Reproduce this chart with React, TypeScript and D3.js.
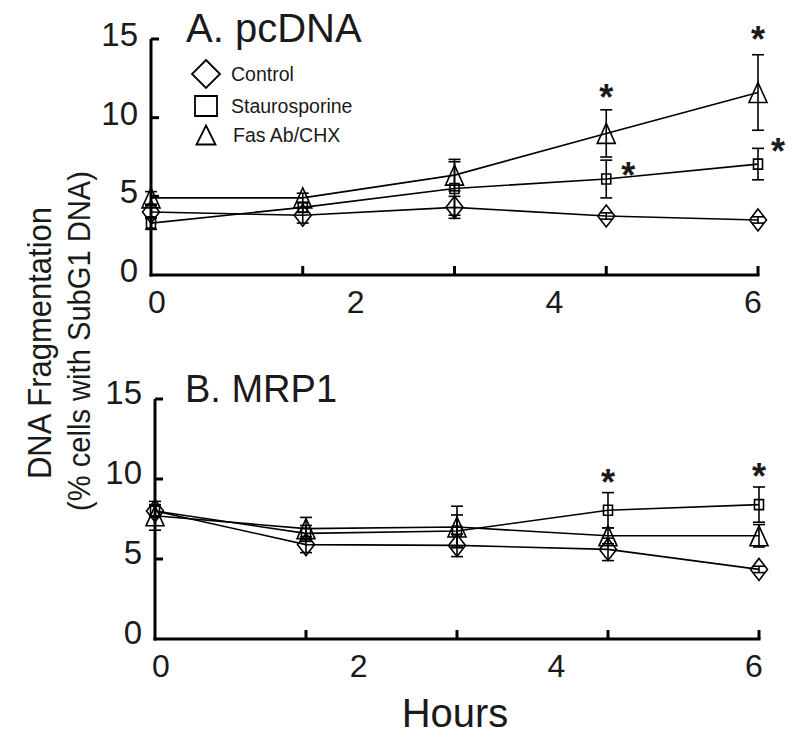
import React from "react";
import * as d3 from "d3";

const times = [0, 1.5, 3, 4.5, 6];
const xTickValues = [1.5, 3, 4.5, 6];
const xLabelValues = [0, 2, 4, 6];
const yTickValues = [0, 5, 10, 15];
const seriesNames = ["Control", "Staurosporine", "Fas Ab/CHX"];
const seriesShapes = ["diamond", "square", "triangle"];

// Panel A: pcDNA
const pcControl = [4.0, 3.8, 4.3, 3.75, 3.5];
const pcControlErr = [0.4, 0.5, 0.7, 0.2, 0.2];
const pcStauro = [3.3, 4.3, 5.5, 6.1, 7.05];
const pcStauroErr = [0.4, 0.3, 1.7, 1.2, 1.0];
const pcFas = [4.9, 4.9, 6.35, 9.0, 11.6];
const pcFasErr = [0.4, 0.3, 1.0, 1.5, 2.4];

// Panel B: MRP1
const mrpControl = [8.0, 5.9, 5.85, 5.6, 4.35];
const mrpControlErr = [0.3, 0.5, 0.7, 0.7, 0.2];
const mrpStauro = [8.0, 6.6, 6.75, 8.05, 8.4];
const mrpStauroErr = [0.4, 0.5, 1.0, 1.1, 1.1];
const mrpFas = [7.7, 6.9, 7.0, 6.45, 6.45];
const mrpFasErr = [0.9, 0.7, 1.3, 0.5, 0.7];

// significance stars: time, value (data units), horizontal pixel offset
const pcStars = [
  { t: 4.5, v: 11.8, dx: 0 },
  { t: 6, v: 15.5, dx: 0 },
  { t: 4.5, v: 6.85, dx: 22 },
  { t: 6, v: 8.4, dx: 20 },
];
const mrpStars = [
  { t: 4.5, v: 10.3, dx: 0 },
  { t: 6, v: 10.7, dx: 0 },
];

const FONT = "'Liberation Sans', Arial, Helvetica, sans-serif";

function markerPath(shape: string, cx: number, cy: number, big = false) {
  const p = d3.path();
  if (shape === "diamond") {
    const hw = big ? 14 : 8.5, hh = big ? 14 : 11;
    p.moveTo(cx, cy - hh);
    p.lineTo(cx + hw, cy);
    p.lineTo(cx, cy + hh);
    p.lineTo(cx - hw, cy);
    p.closePath();
  } else if (shape === "square") {
    const hw = big ? 11 : 4.5, hh = big ? 10 : 5;
    p.rect(cx - hw, cy - hh, hw * 2, hh * 2);
  } else {
    const hw = big ? 9.5 : 9, hh = big ? 9.5 : 10;
    p.moveTo(cx, cy - hh);
    p.lineTo(cx + hw, cy + hh);
    p.lineTo(cx - hw, cy + hh);
    p.closePath();
  }
  return p.toString();
}

type Panel = {
  title: string;
  x0: number; x1: number; y0: number; y1: number;
  titleX: number; titleY: number; titleSize: number;
  labelShift: number;
  values: number[][];
  errs: number[][];
  stars: { t: number; v: number; dx: number }[];
  legend: boolean;
};

const panels: Panel[] = [
  {
    title: "A. pcDNA",
    x0: 151, x1: 758, y0: 275, y1: 39,
    titleX: 186, titleY: 42, titleSize: 40,
    labelShift: -5,
    values: [pcControl, pcStauro, pcFas],
    errs: [pcControlErr, pcStauroErr, pcFasErr],
    stars: pcStars,
    legend: true,
  },
  {
    title: "B. MRP1",
    x0: 155, x1: 759, y0: 639, y1: 399,
    titleX: 185, titleY: 402, titleSize: 38,
    labelShift: -7,
    values: [mrpControl, mrpStauro, mrpFas],
    errs: [mrpControlErr, mrpStauroErr, mrpFasErr],
    stars: mrpStars,
    legend: false,
  },
];

function PanelView({ p }: { p: Panel }) {
  const x = d3.scaleLinear().domain([0, 6]).range([p.x0, p.x1]);
  const xl = d3.scaleLinear().domain([0, 6]).range([p.x0 + 6, p.x1 - 5]);
  const y = d3.scaleLinear().domain([0, 15]).range([p.y0, p.y1]);
  const line = d3
    .line<number>()
    .x((_, i) => x(times[i]))
    .y((d) => y(d));
  return (
    <g>
      {/* axes */}
      <line x1={p.x0} x2={p.x0} y1={y(15)} y2={p.y0 + 1.5} stroke="#000" strokeWidth={3} />
      <line x1={p.x0 - 1.5} x2={p.x1 + 1.5} y1={p.y0} y2={p.y0} stroke="#000" strokeWidth={3} />
      {yTickValues.filter((v) => v > 0).map((v) => (
        <line key={"yt" + v} x1={p.x0} x2={p.x0 + 8} y1={y(v)} y2={y(v)} stroke="#000" strokeWidth={3} />
      ))}
      {xTickValues.map((v) => (
        <line key={"xt" + v} x1={x(v)} x2={x(v)} y1={p.y0} y2={p.y0 - 9} stroke="#000" strokeWidth={3} />
      ))}
      {yTickValues.map((v) => (
        <text key={"yl" + v} x={p.x0 - 13} y={y(v) + 12 + p.labelShift} textAnchor="end" fontSize={33} fontFamily={FONT} fill="#1a1a1a">
          {v}
        </text>
      ))}
      {xLabelValues.map((v) => (
        <text key={"xl" + v} x={xl(v)} y={p.y0 + 38} textAnchor="middle" fontSize={32} fontFamily={FONT} fill="#1a1a1a">
          {v}
        </text>
      ))}
      {/* title */}
      <text x={p.titleX} y={p.titleY} fontSize={p.titleSize} fontFamily={FONT} fill="#1a1a1a">
        {p.title}
      </text>
      {/* series lines */}
      {p.values.map((vals, si) => (
        <path key={"ln" + si} d={line(vals) || ""} fill="none" stroke="#000" strokeWidth={1.6} />
      ))}
      {/* error bars */}
      {p.values.map((vals, si) =>
        vals.map((v, i) => {
          const e = p.errs[si][i];
          const cx = x(times[i]);
          return (
            <g key={"eb" + si + "-" + i} stroke="#000" strokeWidth={1.6}>
              <line x1={cx} x2={cx} y1={y(v - e)} y2={y(v + e)} />
              <line x1={cx - 6} x2={cx + 6} y1={y(v + e)} y2={y(v + e)} />
              <line x1={cx - 6} x2={cx + 6} y1={y(v - e)} y2={y(v - e)} />
            </g>
          );
        })
      )}
      {/* markers */}
      {p.values.map((vals, si) =>
        vals.map((v, i) => (
          <path
            key={"mk" + si + "-" + i}
            d={markerPath(seriesShapes[si], x(times[i]), y(v))}
            fill="none"
            stroke="#000"
            strokeWidth={1.6}
          />
        ))
      )}
      {/* stars */}
      {p.stars.map((s, i) => (
        <text
          key={"st" + i}
          x={x(s.t) + s.dx}
          y={y(s.v) + 21}
          textAnchor="middle"
          fontSize={36}
          fontWeight="bold"
          fontFamily={FONT}
          fill="#1a1a1a"
        >
          *
        </text>
      ))}
      {/* legend */}
      {p.legend &&
        seriesNames.map((name, i) => {
          const cy = [74, 106, 135][i];
          const cx = 206;
          return (
            <g key={"lg" + i}>
              <path d={markerPath(seriesShapes[i], cx, cy, true)} fill="none" stroke="#000" strokeWidth={1.8} />
              <text x={i === 2 ? 233 : 231} y={cy + 7} fontSize={19.5} fontFamily={FONT} fill="#1a1a1a">
                {name}
              </text>
            </g>
          );
        })}
    </g>
  );
}

export default function App() {
  return (
    <svg width={792} height={737} style={{ display: "block", position: "absolute", left: 0, top: 0, background: "#fff" }}>
      <rect x={0} y={0} width={792} height={737} fill="#fff" />
      {panels.map((p, i) => (
        <PanelView key={i} p={p} />
      ))}
      <text
        transform="translate(51,343) rotate(-90)"
        textAnchor="middle"
        fontSize={34}
        fontFamily={FONT}
        fill="#1a1a1a"
        textLength={272}
        lengthAdjust="spacingAndGlyphs"
      >
        DNA Fragmentation
      </text>
      <text
        transform="translate(90,341) rotate(-90)"
        textAnchor="middle"
        fontSize={31}
        fontFamily={FONT}
        fill="#1a1a1a"
        textLength={340}
        lengthAdjust="spacingAndGlyphs"
      >
        (% cells with SubG1 DNA)
      </text>
      <text x={455} y={727} textAnchor="middle" fontSize={40} fontFamily={FONT} fill="#1a1a1a">
        Hours
      </text>
    </svg>
  );
}
